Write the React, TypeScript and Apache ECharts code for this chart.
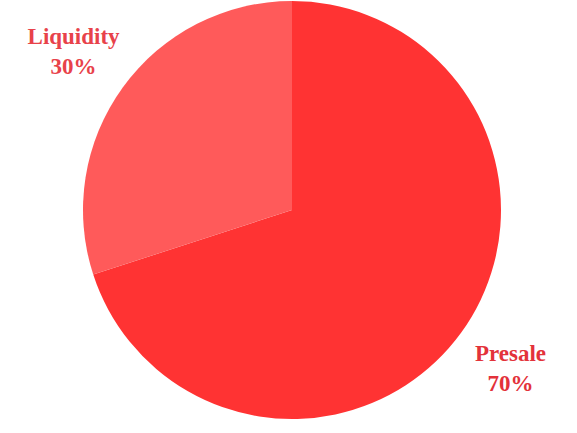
import React, { useEffect, useRef } from "react";
import * as echarts from "echarts";

const categories = ["Presale", "Liquidity"];
const values = [70, 30];
const sliceColors = ["#FF3333", "#FF5A5A"];
const labelColors = ["#E3323A", "#E8424A"];

export default function App() {
  const ref = useRef<HTMLDivElement>(null);
  useEffect(() => {
    document.body.style.margin = "0";
    const chart = echarts.init(ref.current!, null, { renderer: "svg" });
    const data = categories.map((name, i) => ({ name, value: values[i] }));
    chart.setOption({
      animation: false,
      backgroundColor: "#ffffff",
      series: [
        {
          type: "pie",
          center: [292, 210],
          radius: 209,
          startAngle: 90,
          clockwise: true,
          silent: true,
          label: { show: false },
          labelLine: { show: false },
          data: data.map((d, i) => ({ ...d, itemStyle: { color: sliceColors[i] } })),
        },
        {
          type: "pie",
          center: [292, 210],
          radius: [258, 276],
          startAngle: 90,
          clockwise: true,
          silent: true,
          avoidLabelOverlap: false,
          itemStyle: { color: "rgba(0,0,0,0)" },
          labelLine: { show: false },
          label: {
            show: true,
            position: "inside",
            overflow: "none",
            formatter: "{b}\n{d}%",
            fontFamily: "Liberation Serif",
            fontWeight: "bold",
            fontSize: 23,
            lineHeight: 30,
          },
          data: data.map((d, i) => ({ ...d, label: { color: labelColors[i] } })),
        },
      ],
    });
    return () => chart.dispose();
  }, []);
  return <div ref={ref} style={{ width: 577, height: 433 }} />;
}
